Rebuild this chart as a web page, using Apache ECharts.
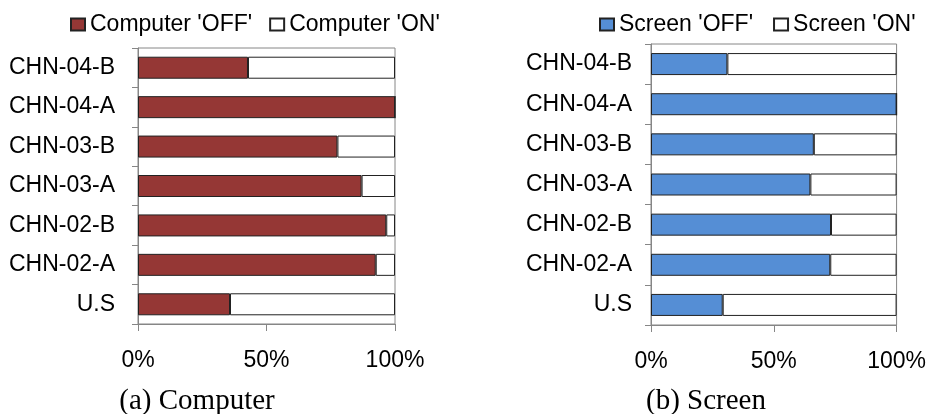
<!DOCTYPE html>
<html>
<head>
<meta charset="utf-8">
<script src="https://cdn.jsdelivr.net/npm/echarts@6/dist/echarts.min.js"></script>
<style>
html,body{margin:0;padding:0;background:#fff;}
#chart{width:929px;height:414px;}
</style>
</head>
<body>
<div id="chart"></div>
<script>
const categories = ['CHN-04-B', 'CHN-04-A', 'CHN-03-B', 'CHN-03-A', 'CHN-02-B', 'CHN-02-A', 'U.S'];
const computerOff = [42.8, 100, 77.6, 87.0, 96.6, 92.5, 35.8];
const computerOn = [57.2, 0, 22.4, 13.0, 3.4, 7.5, 64.2];
const screenOff = [31.1, 100, 66.3, 64.9, 73.3, 73.0, 29.2];
const screenOn = [68.9, 0, 33.7, 35.1, 26.7, 27.0, 70.8];
const xTicks = [0, 50, 100];
const captions = ['(a) Computer', '(b) Screen'];
const seriesNames = ["Computer 'OFF'", "Computer 'ON'", "Screen 'OFF'", "Screen 'ON'"];

const SANS = 'Liberation Sans, Arial, sans-serif';
const SERIF = 'Liberation Serif, Times New Roman, serif';
const AXIS_GRAY = '#868686';
const BROWN = '#953735';
const BLUE = '#558ED5';
const FS = 23;

function xAxisCfg(idx) {
  return {
    type: 'value', gridIndex: idx, min: xTicks[0], max: xTicks[xTicks.length - 1], interval: 50,
    axisLine: {show: true, lineStyle: {color: AXIS_GRAY, width: 1}},
    axisTick: {show: true, length: 7, lineStyle: {color: AXIS_GRAY}},
    splitLine: {show: false},
    axisLabel: {formatter: '{value}%', color: '#000', fontSize: FS, fontFamily: SANS, margin: 25}
  };
}
function yAxisCfg(idx, margin) {
  return {
    type: 'category', gridIndex: idx, data: categories, inverse: true,
    axisLine: {show: true, lineStyle: {color: AXIS_GRAY, width: 1}},
    axisTick: {show: true, length: 6, lineStyle: {color: AXIS_GRAY}},
    axisLabel: {color: '#000', fontSize: FS, fontFamily: SANS, margin: margin}
  };
}
function barSeries(name, data, idx, color) {
  return {
    name: name, type: 'bar', stack: 's' + idx, xAxisIndex: idx, yAxisIndex: idx,
    data: data, barWidth: 22, silent: true,
    itemStyle: {color: color, borderColor: '#222', borderWidth: 1},
    animation: false
  };
}

const chart = echarts.init(document.getElementById('chart'), null, {renderer: 'canvas'});
chart.setOption({
  backgroundColor: '#fff',
  animation: false,
  grid: [
    {left: 138, top: 48, width: 257, height: 276, show: true, borderColor: AXIS_GRAY, borderWidth: 1, backgroundColor: 'transparent'},
    {left: 651, top: 44, width: 247, height: 281, show: true, borderColor: AXIS_GRAY, borderWidth: 1, backgroundColor: 'transparent'}
  ],
  legend: [
    {data: [seriesNames[0], seriesNames[1]], left: 70, top: 13, padding: 0, itemWidth: 14, itemHeight: 12, itemGap: 17,
     icon: 'rect', textStyle: {fontSize: FS, fontFamily: SANS, color: '#000'}, selectedMode: false},
    {data: [seriesNames[2], seriesNames[3]], left: 599, top: 13, padding: 0, itemWidth: 14, itemHeight: 12, itemGap: 20,
     icon: 'rect', textStyle: {fontSize: FS, fontFamily: SANS, color: '#000'}, selectedMode: false}
  ],
  xAxis: [xAxisCfg(0), xAxisCfg(1)],
  yAxis: [yAxisCfg(0, 23), yAxisCfg(1, 19)],
  series: [
    barSeries(seriesNames[0], computerOff, 0, BROWN),
    barSeries(seriesNames[1], computerOn, 0, '#fff'),
    barSeries(seriesNames[2], screenOff, 1, BLUE),
    barSeries(seriesNames[3], screenOn, 1, '#fff')
  ],
  graphic: [
    {type: 'text', x: 197, y: 401, style: {text: captions[0], font: '29px ' + SERIF, fill: '#000', align: 'center', verticalAlign: 'middle'}},
    {type: 'text', x: 706, y: 401, style: {text: captions[1], font: '29px ' + SERIF, fill: '#000', align: 'center', verticalAlign: 'middle'}}
  ]
});
</script>
</body>
</html>
